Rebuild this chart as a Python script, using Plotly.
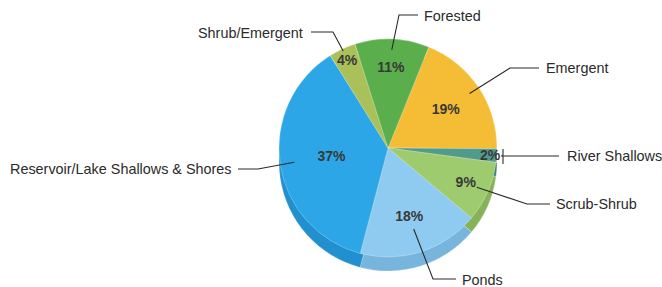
import math
import plotly.graph_objects as go

# ---- data ----
labels = ["Emergent", "River Shallows", "Scrub-Shrub", "Ponds",
          "Reservoir/Lake Shallows & Shores", "Shrub/Emergent", "Forested"]
values = [19, 2, 9, 18, 37, 4, 11]

# ---- styles ----
top_colors = ["#F5BD35", "#4F9C8C", "#9DCB6E", "#8FCBF0", "#2CA6E6", "#A9C158", "#5BAE4C"]
side_colors = ["#D9A42A", "#3F8577", "#86B35A", "#78B5DD", "#2290CF", "#93AA47", "#4C9840"]

W, H = 662, 287
CX, CY, R = 388, 148, 109      # pie centre / radius in pixels
DEPTH = 14                      # 3-D extrusion depth in pixels
ROTATION = 22
FONT = "Liberation Sans, Arial, sans-serif"

def px2paper(x, y):
    return x / W, 1 - y / H

def domain(cx, cy, r):
    x0, y1 = px2paper(cx - r, cy - r)
    x1, y0 = px2paper(cx + r, cy + r)
    return dict(x=[x0, x1], y=[y0, y1])

fig = go.Figure()
# extruded side (a darker copy slightly lower)
fig.add_trace(go.Pie(
    labels=labels, values=values, sort=False, direction="clockwise",
    rotation=ROTATION, domain=domain(CX, CY + DEPTH, R),
    marker=dict(colors=side_colors, line=dict(color="rgba(255,255,255,0.35)", width=0.6)),
    textinfo="none", hoverinfo="skip", showlegend=False,
))
# top face
fig.add_trace(go.Pie(
    labels=labels, values=values, sort=False, direction="clockwise",
    rotation=ROTATION, domain=domain(CX, CY, R),
    marker=dict(colors=top_colors, line=dict(color="rgba(255,255,255,0.45)", width=0.6)),
    texttemplate="<b>%{value}%</b>", textposition="inside",
    insidetextorientation="horizontal",
    textfont=dict(family=FONT, size=14, color="#383838"),
    showlegend=False,
))

# ---- leader lines & labels (layout) ----
# per label: radius factor of the inner anchor, elbow points (px), text pos (px), xanchor
callouts = {
    "Forested":   (0.90, [(399, 15), (418, 15)], (422, 16), "left"),
    "Shrub/Emergent": (0.98, [(333, 32), (311, 32)], (305, 33), "right"),
    "Emergent":   (0.90, [(510, 68), (539, 68)], (544, 68), "left"),
    "River Shallows": (1.04, [(503, 156), (559, 156)], (565, 156), "left"),
    "Scrub-Shrub": (0.89, [(527, 204), (550, 204)], (554, 204), "left"),
    "Ponds":      (0.78, [(433, 279), (456, 279)], (460, 280), "left"),
    "Reservoir/Lake Shallows & Shores": (0.87, [(258, 169), (238, 169)], (234, 169), "right"),
}

total = sum(values)
cum = 0
shapes, annotations = [], []
for lab, v in zip(labels, values):
    mid = ROTATION + 360 * (cum + v / 2) / total
    cum += v
    rf, elbow, tpos, xa = callouts[lab]
    ax = CX + rf * R * math.sin(math.radians(mid))
    ay = CY - rf * R * math.cos(math.radians(mid))
    pts = [(ax, ay)] + elbow
    path = "M " + " L ".join(f"{px2paper(x, y)[0]:.5f},{px2paper(x, y)[1]:.5f}" for x, y in pts)
    shapes.append(dict(type="path", xref="paper", yref="paper", path=path,
                       line=dict(color="#2a2a2a", width=1.1)))
    if lab == "River Shallows":
        bx = elbow[0][0]
        p0 = px2paper(bx, 149)
        p1 = px2paper(bx, 164)
        shapes.append(dict(type="line", xref="paper", yref="paper",
                           x0=p0[0], y0=p0[1], x1=p1[0], y1=p1[1],
                           line=dict(color="#2a2a2a", width=1.1)))
    tx, ty = px2paper(*tpos)
    annotations.append(dict(x=tx, y=ty, xref="paper", yref="paper", text=lab,
                            showarrow=False, xanchor=xa, yanchor="middle",
                            font=dict(family=FONT, size=14.4, color="#2a2a2a")))

fig.update_layout(
    width=W, height=H, margin=dict(l=0, r=0, t=0, b=0),
    paper_bgcolor="white", plot_bgcolor="white",
    shapes=shapes, annotations=annotations,
    uniformtext=dict(minsize=14, mode="show"),
)

fig.write_html("out.html", config={"displayModeBar": False},
               post_script="document.body.style.margin='0';document.body.style.overflow='hidden';")
